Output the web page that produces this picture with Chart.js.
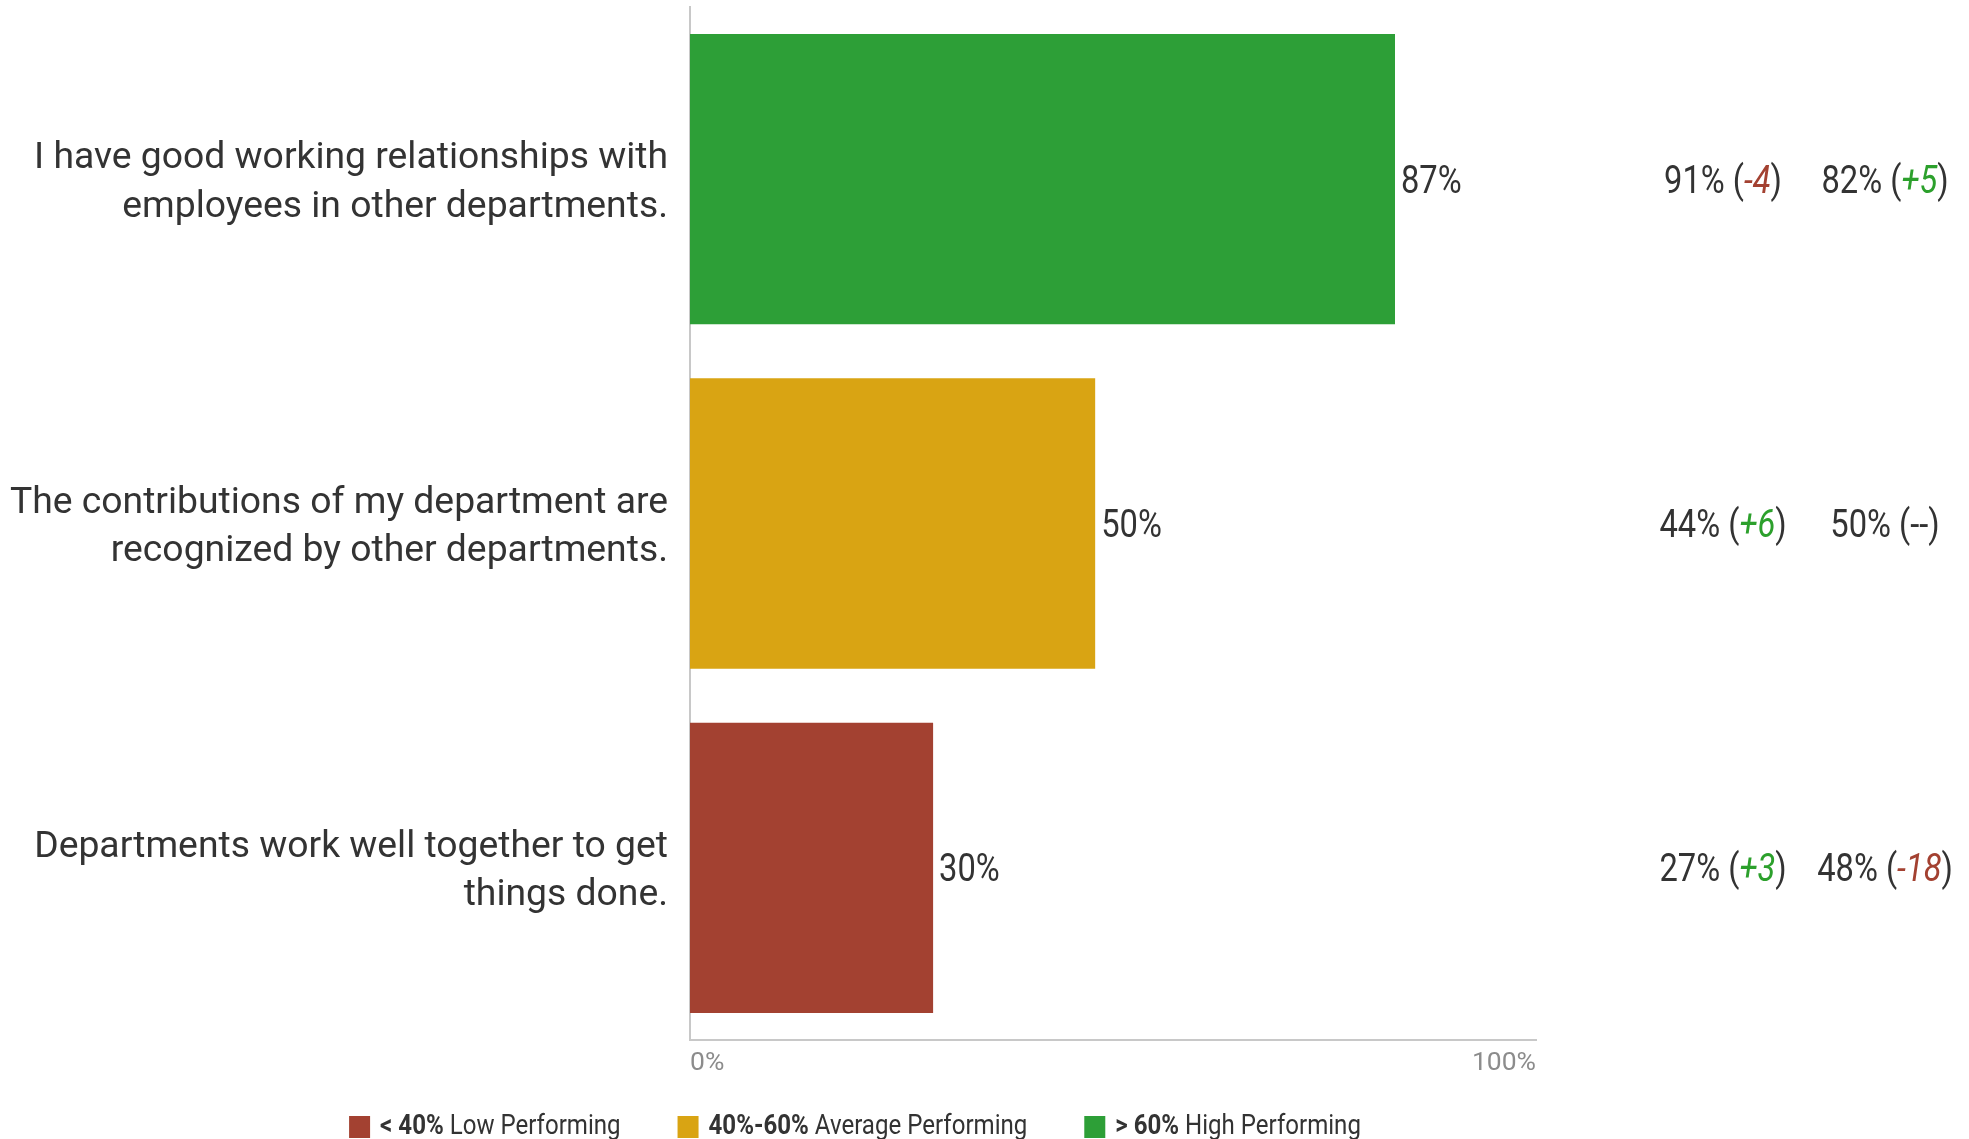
<!DOCTYPE html>
<html lang="en">
<head>
  <meta charset="UTF-8">
  <title>Department Collaboration</title>
  <script src="https://cdn.jsdelivr.net/npm/chart.js"></script>
  <style>
    html, body { margin: 0; padding: 0; background: #fff; }
    #wrap { width: 1969px; height: 1139px; }
  </style>
</head>
<body>
  <div id="wrap">
    <canvas id="chart" width="1969" height="1139"></canvas>
  </div>

  <script>
    // Survey items and scores
    var categories = [
      ['I have good working relationships with', 'employees in other departments.'],
      ['The contributions of my department are', 'recognized by other departments.'],
      ['Departments work well together to get', 'things done.']
    ];
    var scores = [87, 50, 30];
    var prevScores = [91, 44, 27];   // first comparison column
    var benchScores = [82, 50, 48];  // second comparison column
    var xTickLabels = ['0%', '100%'];

    // Performance bands for colouring and the legend
    var bandLimits = ['< 40%', '40%-60%', '> 60%'];
    var bandNames = ['Low Performing', 'Average Performing', 'High Performing'];
    var bandColors = ['#a34131', '#d9a413', '#2d9f37'];

    var X_MAX = 104.4;
    var TEXT = '#333333';
    var deltaColors = { up: '#2ca02c', down: '#a34131' };

    function bandOf(v) {
      if (v < 40) return 0;
      if (v <= 60) return 1;
      return 2;
    }

    // draws a run of text pieces, squeezed horizontally to look condensed
    function drawRun(ctx, parts, x, y, align, size, sx) {
      var total = 0;
      parts.forEach(function(p) {
        ctx.font = (p.italic ? 'italic ' : '') + (p.bold ? 'bold ' : '') + size + 'px Roboto';
        p.w = ctx.measureText(p.text).width;
        total += p.w;
      });
      var start = x;
      if (align === 'center') start = x - total * sx / 2;
      if (align === 'right') start = x - total * sx;
      ctx.save();
      ctx.translate(start, y);
      ctx.scale(sx, 1);
      ctx.textBaseline = 'middle';
      ctx.textAlign = 'left';
      var cx = 0;
      parts.forEach(function(p) {
        ctx.font = (p.italic ? 'italic ' : '') + (p.bold ? 'bold ' : '') + size + 'px Roboto';
        ctx.fillStyle = p.color;
        ctx.fillText(p.text, cx, 0);
        cx += p.w;
      });
      ctx.restore();
      return total * sx;
    }

    function compareParts(value, other) {
      var d = value - other;
      var parts = [{ text: other + '% (', color: TEXT }];
      if (d === 0) parts.push({ text: '--', color: TEXT });
      else parts.push({ text: (d > 0 ? '+' : '') + d, color: d > 0 ? deltaColors.up : deltaColors.down, italic: true });
      parts.push({ text: ')', color: TEXT });
      return parts;
    }

    var annotations = {
      id: 'annotations',
      afterDatasetsDraw: function(chart) {
        var ctx = chart.ctx;
        var bars = chart.getDatasetMeta(0).data;

        bars.forEach(function(bar, i) {
          var y = bar.y + 4;
          // value at the bar end
          drawRun(ctx, [{ text: scores[i] + '%', color: TEXT }], bar.x + 6, y, 'left', 38, 0.86);
          // comparison columns
          drawRun(ctx, compareParts(scores[i], prevScores[i]), 1723, y, 'center', 38, 0.86);
          drawRun(ctx, compareParts(scores[i], benchScores[i]), 1885, y, 'center', 38, 0.86);
        });

        // legend along the bottom
        var size = 27.2, sx = 0.885, box = 21, gapBox = 10, gapItem = 57;
        var widths = bandNames.map(function(name, i) {
          ctx.font = 'bold ' + size + 'px Roboto';
          var w = ctx.measureText(bandLimits[i] + ' ').width;
          ctx.font = size + 'px Roboto';
          w += ctx.measureText(name).width;
          return box + gapBox + w * sx;
        });
        var total = widths.reduce(function(a, b) { return a + b; }, 0) + gapItem * (widths.length - 1);
        var lx = 855 - total / 2;
        var ly = 1127;
        bandNames.forEach(function(name, i) {
          ctx.fillStyle = bandColors[i];
          ctx.fillRect(lx, ly - 11, box, 22);
          drawRun(ctx, [
            { text: bandLimits[i] + ' ', color: TEXT, bold: true },
            { text: name, color: TEXT }
          ], lx + box + gapBox, ly, 'left', size, sx);
          lx += widths[i] + gapItem;
        });
      }
    };

    var ctx = document.getElementById('chart').getContext('2d');
    new Chart(ctx, {
      type: 'bar',
      data: {
        labels: categories,
        datasets: [{
          data: scores,
          backgroundColor: scores.map(function(v) { return bandColors[bandOf(v)]; }),
          borderWidth: 0,
          barPercentage: 0.843,
          categoryPercentage: 1
        }]
      },
      options: {
        indexAxis: 'y',
        responsive: false,
        animation: false,
        layout: { padding: { left: 0, right: 433, top: 7, bottom: 0 } },
        plugins: {
          legend: { display: false },
          tooltip: { enabled: false }
        },
        scales: {
          x: {
            min: 0,
            max: X_MAX,
            grid: { display: false, drawTicks: false },
            border: { display: true, color: '#c8c8c8', width: 2 },
            afterBuildTicks: function(scale) {
              scale.ticks = [{ value: 0 }, { value: scale.max }];
            },
            afterFit: function(scale) {
              scale.height = 99;
              scale.paddingLeft = 0;
              scale.paddingRight = 0;
            },
            ticks: {
              autoSkip: false,
              maxRotation: 0,
              align: 'inner',
              padding: 7,
              color: '#8c8c8c',
              font: { family: 'Roboto', size: 26.5 },
              callback: function(v, i) { return xTickLabels[i]; }
            }
          },
          y: {
            grid: { display: false, drawTicks: false },
            border: { display: true, color: '#c8c8c8', width: 2 },
            afterFit: function(scale) {
              scale.width = 690;
              scale.paddingTop = 0;
              scale.paddingBottom = 0;
            },
            ticks: {
              padding: 22,
              labelOffset: 4,
              color: TEXT,
              font: { family: 'Roboto', size: 37.3, lineHeight: 1.3 }
            }
          }
        }
      },
      plugins: [annotations]
    });
  </script>
</body>
</html>
